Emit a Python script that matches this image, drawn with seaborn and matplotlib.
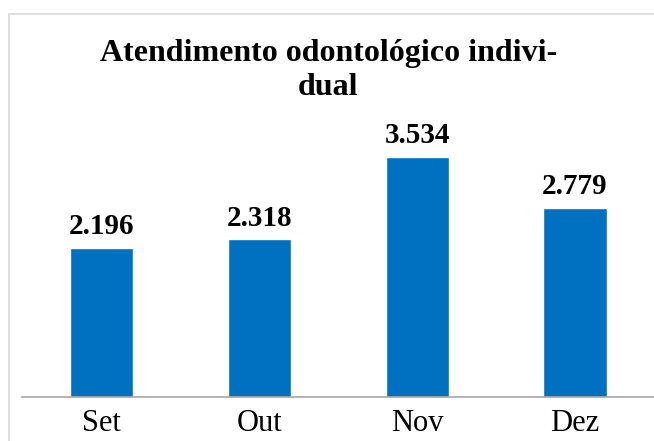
import matplotlib
matplotlib.use("Agg")
import matplotlib.pyplot as plt
import seaborn as sns
import pandas as pd
from matplotlib.lines import Line2D

# dados do gráfico
meses = ["Set", "Out", "Nov", "Dez"]
atendimentos = [2196, 2318, 3534, 2779]
rotulos = ["2.196", "2.318", "3.534", "2.779"]

sns.set_style("white")
plt.rcParams['font.family'] = ['Liberation Serif', 'DejaVu Serif']

df = pd.DataFrame({"mes": meses, "valor": atendimentos})

fig = plt.figure(figsize=(6.54, 4.41), dpi=100)
ax = fig.add_axes([0.034, 0.0998, 0.966, 0.617])

# moldura cinza do gráfico (só esquerda e topo aparecem)
x0 = 9 / 654
y0 = 1 - 14 / 441
fig.add_artist(Line2D([x0, x0], [0, y0], transform=fig.transFigure,
                      color="#D9D9D9", linewidth=1.2))
fig.add_artist(Line2D([x0, 1], [y0, y0], transform=fig.transFigure,
                      color="#D9D9D9", linewidth=1.2))

sns.barplot(data=df, x="mes", y="valor", color="#0070C0", width=0.4,
            saturation=1, ax=ax)

for i, (v, txt) in enumerate(zip(atendimentos, rotulos)):
    ax.text(i, v + 110, txt, ha="center", va="bottom",
            fontsize=21, fontweight="bold", color="#000000")

ax.set_ylim(0, 4000)
ax.set_xlim(-0.5, 3.5)
ax.set_yticks([])
ax.set_xlabel("")
ax.set_ylabel("")
ax.tick_params(axis="x", length=0, labelsize=22, pad=9, labelcolor="#000000")
for s in ["top", "left", "right"]:
    ax.spines[s].set_visible(False)
ax.spines["bottom"].set_color("#A6A6A6")
ax.spines["bottom"].set_linewidth(1.2)

fig.text(0.502, 0.84, "Atendimento odontológico indivi-\ndual",
         ha="center", va="center", fontsize=23, fontweight="bold",
         linespacing=1.25, color="#000000")

fig.savefig("out.png", dpi=100)
